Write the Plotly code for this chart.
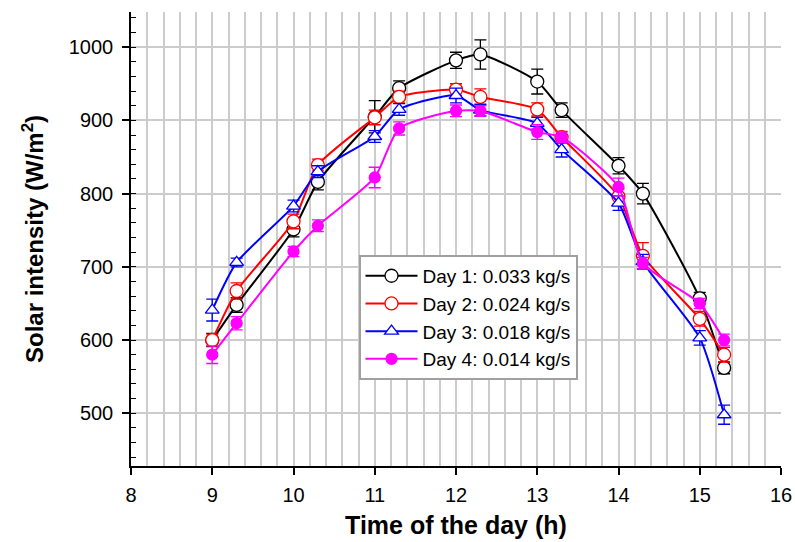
import plotly.graph_objects as go

times = [9, 9.3, 10, 10.3, 11, 11.3, 12, 12.3, 13, 13.3, 14, 14.3, 15, 15.3]

day1 = [600, 648, 751, 816, 905, 944, 982, 990, 953, 914, 838, 800, 657, 562]
day1_err = [9, 10, 10, 11, 22, 10, 11, 20, 17, 10, 11, 14, 8, 8]

day2 = [600, 667, 762, 839, 904, 932, 942, 932, 915, 877, 796, 715, 629, 580]
day2_err = [8, 11, 10, 8, 10, 8, 8, 11, 9, 8, 10, 18, 10, 10]

day3 = [641, 706, 783, 830, 878, 915, 934, 914, 896, 860, 787, 707, 603, 498]
day3_err = [15, 6, 8, 8, 8, 8, 10, 8, 8, 10, 10, 10, 10, 13]

day4 = [580, 623, 721, 756, 822, 889, 913, 913, 884, 877, 809, 705, 650, 600]
day4_err = [12, 9, 7, 8, 14, 9, 8, 7, 10, 7, 12, 8, 7, 8]

names = ["Day 1: 0.033 kg/s", "Day 2: 0.024 kg/s", "Day 3: 0.018 kg/s", "Day 4: 0.014 kg/s"]
colors = ["#000000", "#ff0000", "#0000ff", "#ff00ff"]
symbols = ["circle", "circle", "triangle-up", "circle"]
filled = [False, False, False, True]
sizes = [13, 13, 12, 11]
series = [day1, day2, day3, day4]
errors = [day1_err, day2_err, day3_err, day4_err]

FONT = "Arial, Liberation Sans, sans-serif"

fig = go.Figure()
for name, col, sym, fl, sz, ys, es in zip(names, colors, symbols, filled, sizes, series, errors):
    fig.add_trace(go.Scatter(
        x=times, y=ys, name=name, mode="lines+markers",
        line=dict(color=col, width=2, shape="spline", smoothing=0.6),
        marker=dict(symbol=sym, size=sz, color=col if fl else "white",
                    line=dict(color=col, width=1.3)),
        error_y=dict(type="data", array=es, visible=True, color=col, thickness=1.3, width=6),
    ))

fig.update_layout(
    width=795, height=542,
    margin=dict(l=131, r=14, t=12, b=76, autoexpand=False),
    plot_bgcolor="white", paper_bgcolor="white",
    font=dict(family=FONT, size=20, color="black"),
    showlegend=True,
    legend=dict(
        x=0.35, y=0.465, xanchor="left", yanchor="top",
        bgcolor="white", bordercolor="#a0a0a0", borderwidth=2,
        font=dict(family=FONT, size=19, color="black"),
        itemwidth=52, tracegroupgap=0,
    ),
    xaxis=dict(
        range=[8, 16], dtick=1, tick0=8, automargin=False,
        showline=True, linecolor="black", linewidth=1.5,
        ticks="outside", ticklen=7, tickcolor="black", tickwidth=1.5,
        showgrid=True, gridcolor="#cccccc", gridwidth=1.5,
        minor=dict(dtick=0.2, showgrid=True, gridcolor="#cccccc", gridwidth=1.5, ticks=""),
        zeroline=False, ticklabelstandoff=3,
        title=dict(text="<b>Time of the day (h)</b>", font=dict(size=25, family=FONT), standoff=12),
        tickfont=dict(size=20),
    ),
    yaxis=dict(
        range=[428, 1048], dtick=100, tick0=0, automargin=False,
        showline=True, linecolor="black", linewidth=1.5,
        ticks="outside", ticklen=7, tickcolor="black", tickwidth=1.5,
        showgrid=True, gridcolor="#cccccc", gridwidth=1.5,
        minor=dict(dtick=20, ticks="inside", ticklen=5, tickcolor="black", tickwidth=1, showgrid=False),
        zeroline=False, ticklabelstandoff=5,
        title=dict(text="<b>Solar intensity (W/m<sup>2</sup>)</b>", font=dict(size=24, family=FONT), standoff=18),
        tickfont=dict(size=20),
    ),
)

fig.write_html("out.html", config={"displayModeBar": False},
               post_script="document.body.style.margin='0';")
